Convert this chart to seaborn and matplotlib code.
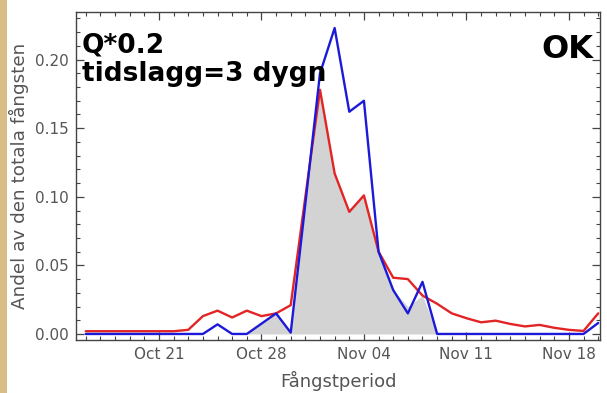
import numpy as np
import pandas as pd
import matplotlib
matplotlib.use("Agg")
import matplotlib.pyplot as plt
import matplotlib.dates as mdates
from matplotlib.ticker import MultipleLocator
import seaborn as sns

# Daily catch shares over the fishing period
dates = pd.date_range("2023-10-16", "2023-11-20", freq="D")
modell_q02 = [0.002, 0.002, 0.002, 0.002, 0.002, 0.002, 0.002, 0.003,
              0.013, 0.017, 0.012, 0.017, 0.013, 0.015, 0.021, 0.100,
              0.178, 0.117, 0.089, 0.101, 0.060, 0.041, 0.040, 0.028,
              0.022, 0.015, 0.0115, 0.0085, 0.0097, 0.0073, 0.0055, 0.0066,
              0.0045, 0.003, 0.0022, 0.015]
modell_lag3 = [0.0, 0.0, 0.0, 0.0, 0.0, 0.0, 0.0, 0.0,
               0.0, 0.007, 0.0, 0.0, 0.0075, 0.015, 0.001, 0.095,
               0.190, 0.223, 0.162, 0.170, 0.060, 0.032, 0.015, 0.038,
               0.0, 0.0, 0.0, 0.0, 0.0, 0.0, 0.0, 0.0,
               0.0, 0.0, 0.0, 0.008]
fangst = [0.0, 0.0, 0.0, 0.0, 0.0, 0.0, 0.0, 0.0,
          0.0, 0.0, 0.0, 0.0, 0.0075, 0.015, 0.001, 0.095,
          0.178, 0.117, 0.089, 0.101, 0.060, 0.032, 0.020, 0.028,
          0.0, 0.0, 0.0, 0.0, 0.0, 0.0, 0.0, 0.0,
          0.0, 0.0, 0.0, 0.0]
tick_dates = ["2023-10-21", "2023-10-28", "2023-11-04", "2023-11-11", "2023-11-18"]
y_ticks = [0.00, 0.05, 0.10, 0.15, 0.20]

df = pd.DataFrame({"datum": dates, "q02": modell_q02,
                   "lag3": modell_lag3, "fangst": fangst})

sns.set_style("ticks")
plt.rcParams["font.family"] = ["DejaVu Sans"]

fig = plt.figure(figsize=(6.07, 3.93), dpi=100)
fig.patch.set_facecolor("white")
# beige strip along the left edge
fig.patches.append(plt.Rectangle((0, 0), 7 / 607, 1, transform=fig.transFigure,
                                 facecolor="#d9bd86", edgecolor="none", zorder=0))

ax = fig.add_axes([76 / 607, 1 - 340 / 393, 524 / 607, 328 / 393])

ax.fill_between(df["datum"], 0, df["fangst"], color="#d3d3d3", lw=0, zorder=1)
sns.lineplot(data=df, x="datum", y="q02", ax=ax, color="#e32424", lw=1.7, zorder=3)
sns.lineplot(data=df, x="datum", y="lag3", ax=ax, color="#1c1ad8", lw=1.7, zorder=4)

ax.set_xlim(dates[0] - pd.Timedelta(hours=16), dates[-1] + pd.Timedelta(hours=3))
ax.set_ylim(-0.0044, 0.2347)

ax.set_xticks(pd.to_datetime(tick_dates))
ax.xaxis.set_major_formatter(mdates.DateFormatter("%b %d"))
ax.xaxis.set_minor_locator(mdates.DayLocator())
ax.set_yticks(y_ticks)
ax.set_yticklabels([f"{v:.2f}" for v in y_ticks])
ax.yaxis.set_minor_locator(MultipleLocator(0.01))

frame = "#444444"
for s in ax.spines.values():
    s.set_visible(True)
    s.set_color(frame)
    s.set_linewidth(1.0)
ax.tick_params(which="both", direction="in", top=True, right=True, color=frame,
               labelcolor="#555555", labelsize=11)
ax.tick_params(which="major", length=6, width=0.9, pad=5)
ax.tick_params(which="minor", length=3, width=0.8)

ax.set_xlabel("Fångstperiod", fontsize=13, color="#555555")
ax.set_ylabel("Andel av den totala fångsten", fontsize=13.2, color="#555555")
ax.xaxis.set_label_coords(0.5, -0.093)
ax.yaxis.set_label_coords(-0.09, 0.5)

ax.text(6 / 524, 1 - 20 / 328, "Q*0.2\ntidslagg=3 dygn", transform=ax.transAxes,
        fontsize=19, fontweight="bold", color="black", ha="left", va="top",
        linespacing=1.15, zorder=5)
ax.text(1 - 7 / 524, 1 - 22 / 328, "OK", transform=ax.transAxes,
        fontsize=23, fontweight="bold", color="black", ha="right", va="top", zorder=5)

fig.savefig("out.png", dpi=100)
